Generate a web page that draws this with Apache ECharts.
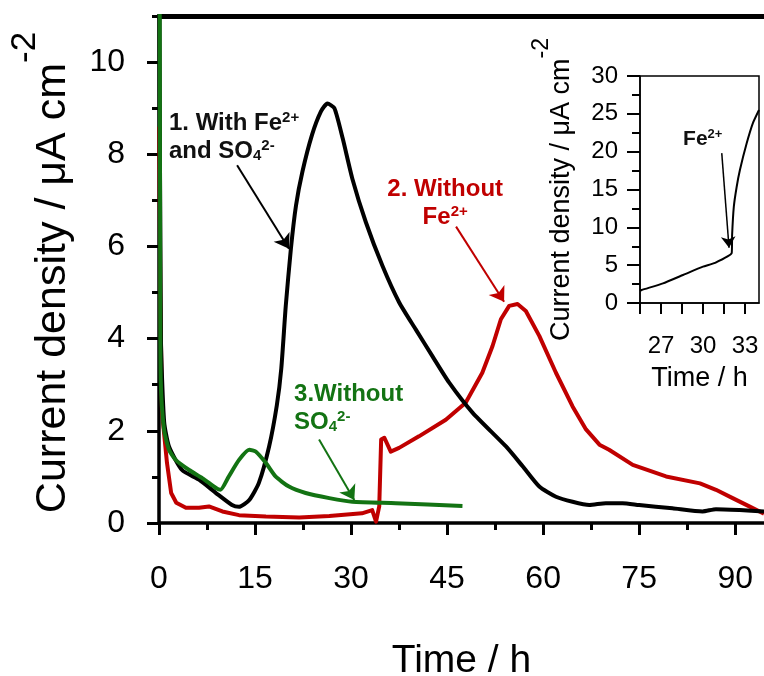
<!DOCTYPE html>
<html><head><meta charset="utf-8">
<script src="https://cdn.jsdelivr.net/npm/echarts@6/dist/echarts.min.js"></script>
<style>html,body{margin:0;padding:0;background:#fff}#c{width:764px;height:676px}</style>
</head><body><div id="c"></div>
<script>
// ---- Data ----
// Curve 1: With Fe2+ and SO4 2-
const timeWithFeSO4 = [0.05, 0.3, 0.8, 1.56, 3.6, 6.25, 8.9, 11.4, 12.5, 14.1, 15.6, 17.2, 18.4, 19.1, 19.8, 20.6, 21.4, 22.4, 23.9, 25.3, 26.3, 27.4, 28.7, 30.2, 32.3, 34.9, 37.5, 40.1, 42.7, 45.3, 49.0, 54.2, 56.8, 59.4, 62.0, 64.6, 67.2, 69.8, 72.4, 75.0, 80.2, 84.9, 87.0, 90.7, 94.5];
const currentWithFeSO4 = [12, 4.0, 2.2, 1.66, 1.15, 0.94, 0.65, 0.39, 0.35, 0.5, 0.87, 1.66, 2.55, 3.35, 4.71, 5.95, 6.89, 7.62, 8.42, 8.93, 9.1, 9.0, 8.34, 7.47, 6.53, 5.58, 4.79, 4.2, 3.62, 3.05, 2.39, 1.66, 1.23, 0.79, 0.57, 0.46, 0.39, 0.43, 0.43, 0.39, 0.32, 0.25, 0.3, 0.28, 0.25];
// Curve 2: Without Fe2+
const timeWithoutFe = [0.05, 0.2, 0.47, 1.25, 1.9, 2.7, 4.2, 6.25, 7.8, 9.9, 12.5, 16.7, 21.9, 26.6, 31.7, 33.3, 33.9, 34.4, 34.7, 35.2, 36.2, 37.5, 40.6, 44.8, 47.9, 50.5, 52.1, 53.4, 54.7, 56.0, 57.3, 59.4, 62.0, 64.6, 66.7, 68.8, 70.3, 74.0, 79.2, 84.5, 87.0, 89.6, 92.2, 94.5];
const currentWithoutFe = [8.6, 5.0, 2.4, 1.3, 0.65, 0.44, 0.33, 0.33, 0.36, 0.25, 0.17, 0.14, 0.12, 0.15, 0.21, 0.28, 0.03, 0.36, 1.81, 1.85, 1.55, 1.63, 1.88, 2.24, 2.61, 3.26, 3.84, 4.42, 4.71, 4.75, 4.6, 4.06, 3.26, 2.53, 2.03, 1.7, 1.59, 1.26, 1.01, 0.86, 0.72, 0.54, 0.36, 0.2];
// Curve 3: Without SO4 2-
const timeWithoutSO4 = [0.1, 0.18, 0.27, 0.78, 1.56, 2.6, 4.7, 6.8, 8.9, 9.6, 10.9, 12.5, 14.1, 15.1, 16.7, 18.2, 20.3, 22.9, 26.6, 30.2, 37.0, 47.4];
const currentWithoutSO4 = [12, 6, 3.1, 2.03, 1.59, 1.37, 1.15, 0.97, 0.76, 0.72, 1.01, 1.37, 1.59, 1.55, 1.3, 1.01, 0.79, 0.65, 0.54, 0.46, 0.43, 0.37];
// Inset: Fe2+ addition
const timeInset = [25.5, 25.62, 27.14, 28.57, 30.0, 30.86, 32.05, 32.08, 32.2, 32.4, 32.64, 33.12, 33.57, 34.0];
const currentInset = [1.6, 1.72, 2.6, 3.7, 4.8, 5.3, 6.6, 9.0, 12.7, 15.3, 17.6, 21.1, 23.8, 25.5];
// Tick values
const mainXMajor = [0, 15, 30, 45, 60, 75, 90];
const mainXMinor = [7.5, 22.5, 37.5, 52.5, 67.5, 82.5];
const mainYMajor = [0, 2, 4, 6, 8, 10];
const mainYMinor = [1, 3, 5, 7, 9, 11];
const insetXTicks = [25.5, 27, 28.5, 30, 31.5, 33];
const insetXLabels = [27, 30, 33];
const insetYMajor = [0, 5, 10, 15, 20, 25, 30];
const insetYMinor = [2.5, 7.5, 12.5, 17.5, 22.5, 27.5];

const FONT = '"Liberation Sans", Arial, sans-serif';
const RED = '#c00000', GREEN = '#137313', BLACK = '#000000';
const zip = (t, v) => t.map((x, i) => [x, v[i]]);

function annRich(color, size) {
  const s = Math.round(size * 0.62);
  return {
    b: {fontSize: size, fontWeight: 'bold', color, fontFamily: FONT, lineHeight: size + 4, verticalAlign: 'bottom'},
    sup: {fontSize: s, fontWeight: 'bold', color, fontFamily: FONT, lineHeight: s, verticalAlign: 'bottom', padding: [0, 0, Math.round(size * 0.42), 0]},
    sub: {fontSize: s, fontWeight: 'bold', color, fontFamily: FONT, lineHeight: s, verticalAlign: 'bottom'}
  };
}
function nameRich(size, supSize, raise) {
  return {
    m: {fontSize: size, color: BLACK, fontFamily: FONT, lineHeight: size, verticalAlign: 'bottom'},
    sup: {fontSize: supSize, color: BLACK, fontFamily: FONT, lineHeight: supSize, verticalAlign: 'bottom', padding: [0, 0, raise, 0]}
  };
}
function annPoint(coord, text, color, size, align) {
  return {
    coord, symbolSize: 0,
    label: {show: true, position: [0, 0], align, verticalAlign: 'middle', formatter: text, rich: annRich(color, size), lineHeight: size + 4}
  };
}
function arrow(from, to, color, w, head) {
  return {
    silent: true, animation: false, symbol: ['none', 'arrow'], symbolSize: head,
    label: {show: false}, lineStyle: {type: 'solid', color, width: w},
    itemStyle: {color},
    data: [[{coord: from}, {coord: to}]]
  };
}
const tickStyle = (w) => ({color: BLACK, width: w});

const chart = echarts.init(document.getElementById('c'), null, {renderer: 'canvas'});
chart.setOption({
  animation: false,
  backgroundColor: '#ffffff',
  grid: [
    {left: 159, top: 16, right: 0, bottom: 153, containLabel: false, outerBoundsMode: 'none'},
    {left: 640, top: 76, width: 119, height: 227, containLabel: false, outerBoundsMode: 'none', show: true, borderColor: BLACK, borderWidth: 1.5, backgroundColor: 'rgba(0,0,0,0)'}
  ],
  xAxis: [
    {type: 'value', gridIndex: 0, min: 0, max: 94.5, position: 'bottom',
     axisLine: {show: true, onZero: false, lineStyle: {color: BLACK, width: 3.5}},
     axisTick: {show: true, customValues: mainXMajor, length: 12, lineStyle: tickStyle(3)},
     splitLine: {show: false},
     axisLabel: {customValues: mainXMajor, fontSize: 32, color: BLACK, fontFamily: FONT, margin: 40},
     name: 'Time / h', nameLocation: 'middle', nameGap: 119, nameMoveOverlap: false,
     nameTextStyle: {fontSize: 39, color: BLACK, fontFamily: FONT}},
    {type: 'value', gridIndex: 0, min: 0, max: 94.5, position: 'bottom',
     axisLine: {show: false, onZero: false},
     axisTick: {show: true, customValues: mainXMinor, length: 7, lineStyle: tickStyle(3)},
     splitLine: {show: false}, axisLabel: {show: false}},
    {type: 'value', gridIndex: 0, min: 0, max: 94.5, position: 'top',
     axisLine: {show: true, onZero: false, lineStyle: {color: BLACK, width: 5}},
     axisTick: {show: false}, splitLine: {show: false}, axisLabel: {show: false}},
    {type: 'value', gridIndex: 1, min: 25.5, max: 34, position: 'bottom',
     axisLine: {show: true, onZero: false, lineStyle: {color: BLACK, width: 1.5}},
     axisTick: {show: true, customValues: insetXTicks, length: 11, lineStyle: tickStyle(2)},
     splitLine: {show: false},
     axisLabel: {customValues: insetXLabels, fontSize: 24, color: BLACK, fontFamily: FONT, margin: 31},
     name: 'Time / h', nameLocation: 'middle', nameGap: 62, nameMoveOverlap: false,
     nameTextStyle: {fontSize: 27, color: BLACK, fontFamily: FONT}}
  ],
  yAxis: [
    {type: 'value', gridIndex: 0, min: 0, max: 11, position: 'left',
     axisLine: {show: true, onZero: false, lineStyle: {color: BLACK, width: 3.5}},
     axisTick: {show: true, customValues: mainYMajor, length: 12, lineStyle: tickStyle(3)},
     splitLine: {show: false},
     axisLabel: {customValues: mainYMajor, fontSize: 32, color: BLACK, fontFamily: FONT, margin: 34},
     name: '{m|Current density / μA cm}{sup|-2}', nameLocation: 'middle', nameGap: 84, nameMoveOverlap: false,
     nameTextStyle: {rich: nameRich(43, 35, 32), fontFamily: FONT, padding: [0, 6, 0, 0]}},
    {type: 'value', gridIndex: 0, min: 0, max: 11, position: 'left',
     axisLine: {show: false, onZero: false},
     axisTick: {show: true, customValues: mainYMinor, length: 7, lineStyle: tickStyle(3)},
     splitLine: {show: false}, axisLabel: {show: false}},
    {type: 'value', gridIndex: 1, min: 0, max: 30, position: 'left',
     axisLine: {show: true, onZero: false, lineStyle: {color: BLACK, width: 1.5}},
     axisTick: {show: true, customValues: insetYMajor, length: 13, lineStyle: tickStyle(2)},
     splitLine: {show: false},
     axisLabel: {customValues: insetYMajor, fontSize: 24, color: BLACK, fontFamily: FONT, margin: 22},
     name: '{m|Current density / μA cm}{sup|-2}', nameLocation: 'middle', nameGap: 65, nameMoveOverlap: false,
     nameTextStyle: {rich: nameRich(27, 23, 22), fontFamily: FONT}},
    {type: 'value', gridIndex: 1, min: 0, max: 30, position: 'left',
     axisLine: {show: false, onZero: false},
     axisTick: {show: true, customValues: insetYMinor, length: 8, lineStyle: tickStyle(2)},
     splitLine: {show: false}, axisLabel: {show: false}}
  ],
  series: [
    {name: 'Without Fe2+', type: 'line', xAxisIndex: 0, yAxisIndex: 0, data: zip(timeWithoutFe, currentWithoutFe),
     symbol: 'none', lineStyle: {color: RED, width: 4, join: 'round'}, itemStyle: {color: RED}, z: 3,
     markPoint: {silent: true, animation: false, symbol: 'circle', data: [
       annPoint([44.7, 6.97], '{b|2. Without}\n{b|Fe}{sup|2+}', RED, 24, 'center')]},
     markLine: arrow([46.4, 6.43], [53.9, 4.8], RED, 2, 14)},
    {name: 'With Fe2+ and SO4 2-', type: 'line', xAxisIndex: 0, yAxisIndex: 0, data: zip(timeWithFeSO4, currentWithFeSO4),
     symbol: 'none', smooth: 0.2, lineStyle: {color: BLACK, width: 4, join: 'round'}, itemStyle: {color: BLACK}, z: 4,
     markPoint: {silent: true, animation: false, symbol: 'circle', data: [
       annPoint([1.56, 8.41], '{b|1. With Fe}{sup|2+}\n{b|and SO}{sub|4}{sup|2-}', '#111111', 24, 'left')]},
     markLine: arrow([12.2, 7.76], [20.3, 5.95], BLACK, 2, 14)},
    {name: 'Without SO4 2-', type: 'line', xAxisIndex: 0, yAxisIndex: 0, data: zip(timeWithoutSO4, currentWithoutSO4),
     symbol: 'none', smooth: 0.2, lineStyle: {color: GREEN, width: 4, join: 'round'}, itemStyle: {color: GREEN}, z: 5,
     markPoint: {silent: true, animation: false, symbol: 'circle', data: [
       annPoint([21.1, 2.53], '{b|3.Without}\n{b|SO}{sub|4}{sup|2-}', GREEN, 24, 'left')]},
     markLine: arrow([25.0, 1.81], [30.5, 0.5], GREEN, 2, 14)},
    {name: 'Inset', type: 'line', xAxisIndex: 3, yAxisIndex: 2, data: zip(timeInset, currentInset),
     symbol: 'none', smooth: 0.15, lineStyle: {color: BLACK, width: 2, join: 'round'}, itemStyle: {color: BLACK}, z: 4,
     markPoint: {silent: true, animation: false, symbol: 'circle', data: [
       annPoint([29.98, 21.9], '{b|Fe}{sup|2+}', '#111111', 21, 'center')]},
     markLine: arrow([31.34, 19.8], [31.86, 7.3], BLACK, 1.5, 11)}
  ]
});
</script></body></html>
